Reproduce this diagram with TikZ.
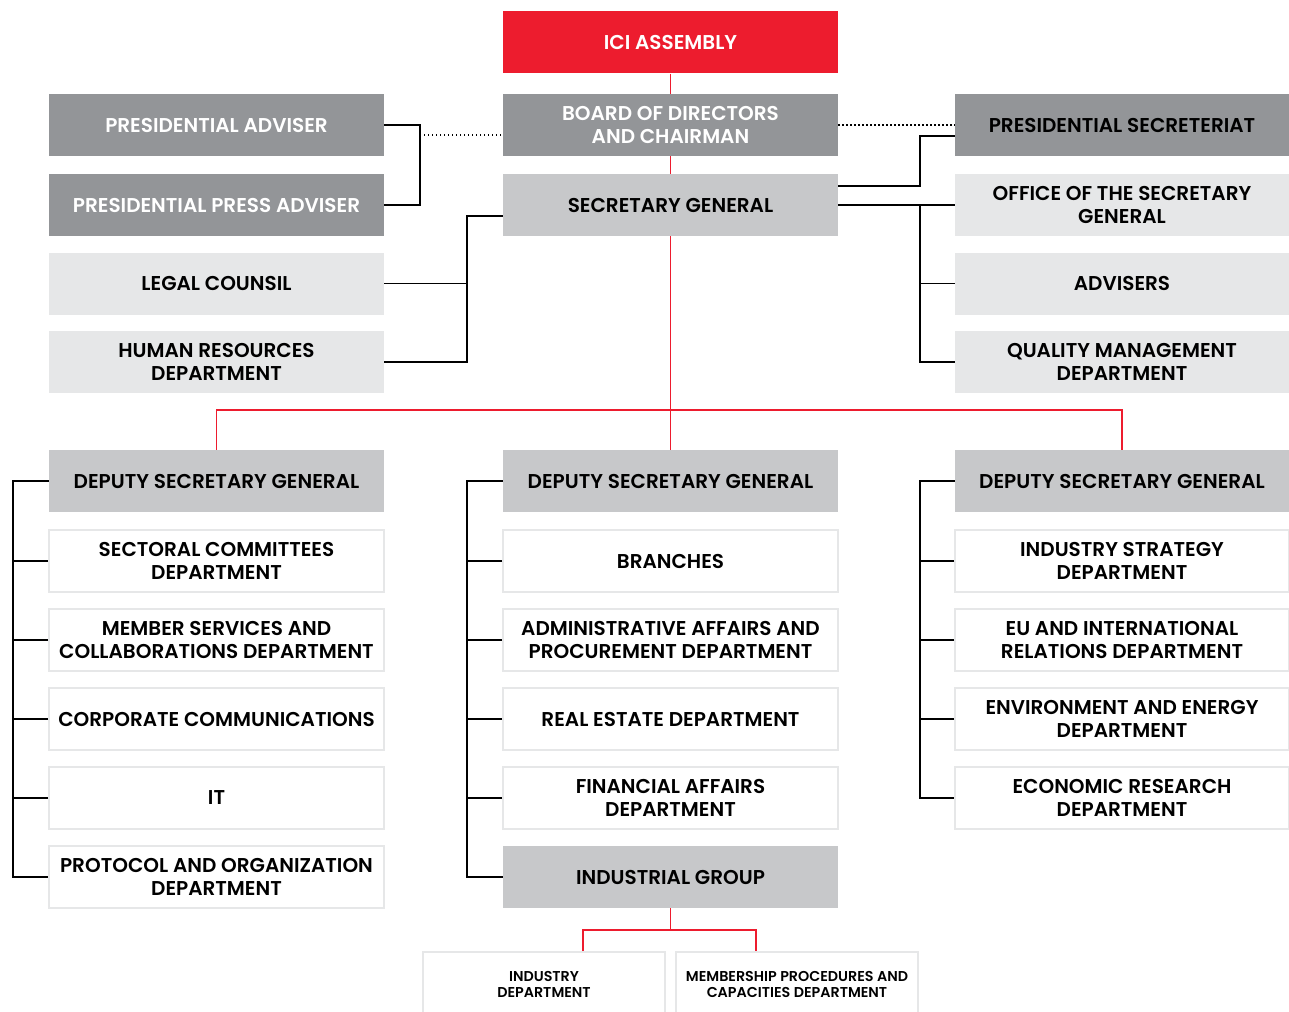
\documentclass[tikz,border=0pt]{standalone}
\usepackage{fontspec}
\IfFontExistsTF{Poppins SemiBold}{\setmainfont{Poppins}[BoldFont={Poppins SemiBold}]}{\setmainfont{Poppins}}
\newlength{\du}
\setlength{\du}{1pt}
\definecolor{icired}{RGB}{237,28,46}
\definecolor{darkgrey}{RGB}{147,149,152}
\definecolor{midgrey}{RGB}{199,200,202}
\definecolor{lightgrey}{RGB}{230,231,232}
\tikzset{
  orgbox/.style={minimum width=335\du, minimum height=62\du, inner sep=0pt, align=center,
    font=\bfseries\fontsize{20}{22.5}\selectfont, text=black, text depth=-7\du},
  redbox/.style={orgbox, fill=icired, text=white},
  darkbox/.style={orgbox, fill=darkgrey, text=white},
  midbox/.style={orgbox, fill=midgrey},
  lightbox/.style={orgbox, fill=lightgrey},
  whitebox/.style={orgbox, draw=lightgrey, line width=1.6\du, fill=white},
  smallbox/.style={whitebox, minimum width=242\du, minimum height=64\du,
    font=\bfseries\fontsize{14.3}{16}\selectfont, text depth=-2\du},
  blackline/.style={line width=1.5\du, black},
  redline/.style={line width=1.4\du, icired},
  dotline/.style={line width=1.3\du, black, dash pattern=on 1.3\du off 2.7\du}
}
\begin{document}
\begin{tikzpicture}
\pgftransformyscale{-1.000000}
\useasboundingbox (0,0) rectangle (1289\du,1011\du);
% top of the chart
\node[redbox] (asm) at (670.5\du,42.5\du) {ICI ASSEMBLY};
\node[darkbox] (board) at (670.5\du,125\du) {BOARD OF DIRECTORS\\AND CHAIRMAN};
\node[midbox] (sg) at (670.5\du,205\du) {SECRETARY GENERAL};
% left of the secretary general
\node[darkbox] (padv) at (216.5\du,125\du) {PRESIDENTIAL ADVISER};
\node[darkbox] (ppadv) at (216.5\du,205\du) {PRESIDENTIAL PRESS ADVISER};
\node[lightbox] (legal) at (216.5\du,283.5\du) {LEGAL COUNSIL};
\node[lightbox] (hr) at (216.5\du,362\du) {HUMAN RESOURCES\\DEPARTMENT};
% right of the secretary general
\node[darkbox, text=black, minimum width=334\du] (psec) at (1122\du,125\du) {PRESIDENTIAL SECRETERIAT};
\node[lightbox, minimum width=334\du] (office) at (1122\du,205\du) {OFFICE OF THE SECRETARY\\GENERAL};
\node[lightbox, minimum width=334\du] (adv) at (1122\du,283.5\du) {ADVISERS};
\node[lightbox, minimum width=334\du] (qual) at (1122\du,362\du) {QUALITY MANAGEMENT\\DEPARTMENT};
% deputies
\node[midbox] (dsgl) at (216.5\du,481\du) {DEPUTY SECRETARY GENERAL};
\node[midbox] (dsgc) at (670.5\du,481\du) {DEPUTY SECRETARY GENERAL};
\node[midbox, minimum width=334\du] (dsgr) at (1122\du,481\du) {DEPUTY SECRETARY GENERAL};
% left column
\node[whitebox] (sect) at (216.5\du,561\du) {SECTORAL COMMITTEES\\DEPARTMENT};
\node[whitebox] (memb) at (216.5\du,640\du) {MEMBER SERVICES AND\\COLLABORATIONS DEPARTMENT};
\node[whitebox] (corp) at (216.5\du,719\du) {CORPORATE COMMUNICATIONS};
\node[whitebox] (it) at (216.5\du,798\du) {IT};
\node[whitebox] (prot) at (216.5\du,877\du) {PROTOCOL AND ORGANIZATION\\DEPARTMENT};
% centre column
\node[whitebox] (branch) at (670.5\du,561\du) {BRANCHES};
\node[whitebox] (admin) at (670.5\du,640\du) {ADMINISTRATIVE AFFAIRS AND\\PROCUREMENT DEPARTMENT};
\node[whitebox] (estate) at (670.5\du,719\du) {REAL ESTATE DEPARTMENT};
\node[whitebox] (fin) at (670.5\du,798\du) {FINANCIAL AFFAIRS\\DEPARTMENT};
\node[midbox] (ig) at (670.5\du,877\du) {INDUSTRIAL GROUP};
% right column
\node[whitebox, minimum width=334\du] (strat) at (1122\du,561\du) {INDUSTRY STRATEGY\\DEPARTMENT};
\node[whitebox, minimum width=334\du] (eu) at (1122\du,640\du) {EU AND INTERNATIONAL\\RELATIONS DEPARTMENT};
\node[whitebox, minimum width=334\du] (env) at (1122\du,719\du) {ENVIRONMENT AND ENERGY\\DEPARTMENT};
\node[whitebox, minimum width=334\du] (econ) at (1122\du,798\du) {ECONOMIC RESEARCH\\DEPARTMENT};
% under the industrial group
\node[smallbox] (indd) at (544\du,984\du) {INDUSTRY\\DEPARTMENT};
\node[smallbox] (mproc) at (797\du,984\du) {MEMBERSHIP PROCEDURES AND\\CAPACITIES DEPARTMENT};
% red spine
\coordinate (split) at (670.5\du,410\du);
\coordinate (igsplit) at (670.5\du,930\du);
\coordinate (igl) at (583\du,930\du);
\coordinate (igr) at (756\du,930\du);
\draw[redline] (asm) -- (board);
\draw[redline] (board) -- (sg);
\draw[redline] (sg) -- (split);
\draw[redline] (split) -- (dsgc);
\draw[redline] (split) -| (dsgl);
\draw[redline] (split) -| (dsgr);
\draw[redline] (ig) -- (igsplit);
\draw[redline] (igl |- indd.north) -- (igl) -- (igr) -- (igr |- mproc.north);
% advisers of the chairman
\coordinate (pbar) at (420\du,135\du);
\draw[blackline] (padv.east) -| (pbar) |- (ppadv.east);
\draw[dotline] (pbar) -- (pbar -| board.west);
\draw[dotline] (board.east) -- (psec.west);
% units of the secretary general
\coordinate (lbar) at (467\du,216\du);
\coordinate (rtop) at (920\du,186\du);
\coordinate (rbar) at (920\du,205\du);
\draw[blackline] (lbar -| sg.west) -- (lbar) |- (hr.east);
\draw[blackline] (legal.east) -- (legal.east -| lbar);
\draw[blackline] (rtop -| sg.east) -- (rtop) |- ([yshift=11\du]psec.west);
\draw[blackline] (sg.east) -- (office.west);
\draw[blackline] (rbar) |- (qual.west);
\draw[blackline] (adv.west) -- (adv.west -| rbar);
% brackets under the deputies
\draw[blackline] (dsgl.west) -| (13\du,877\du) -- (prot.west);
\foreach \n in {sect,memb,corp,it} \draw[blackline] (\n.west) -- (\n.west -| 13\du,0);
\draw[blackline] (dsgc.west) -| (467\du,877\du) -- (ig.west);
\foreach \n in {branch,admin,estate,fin} \draw[blackline] (\n.west) -- (\n.west -| 467\du,0);
\draw[blackline] (dsgr.west) -| (920\du,798\du) -- (econ.west);
\foreach \n in {strat,eu,env} \draw[blackline] (\n.west) -- (\n.west -| 920\du,0);
\end{tikzpicture}
\end{document}
